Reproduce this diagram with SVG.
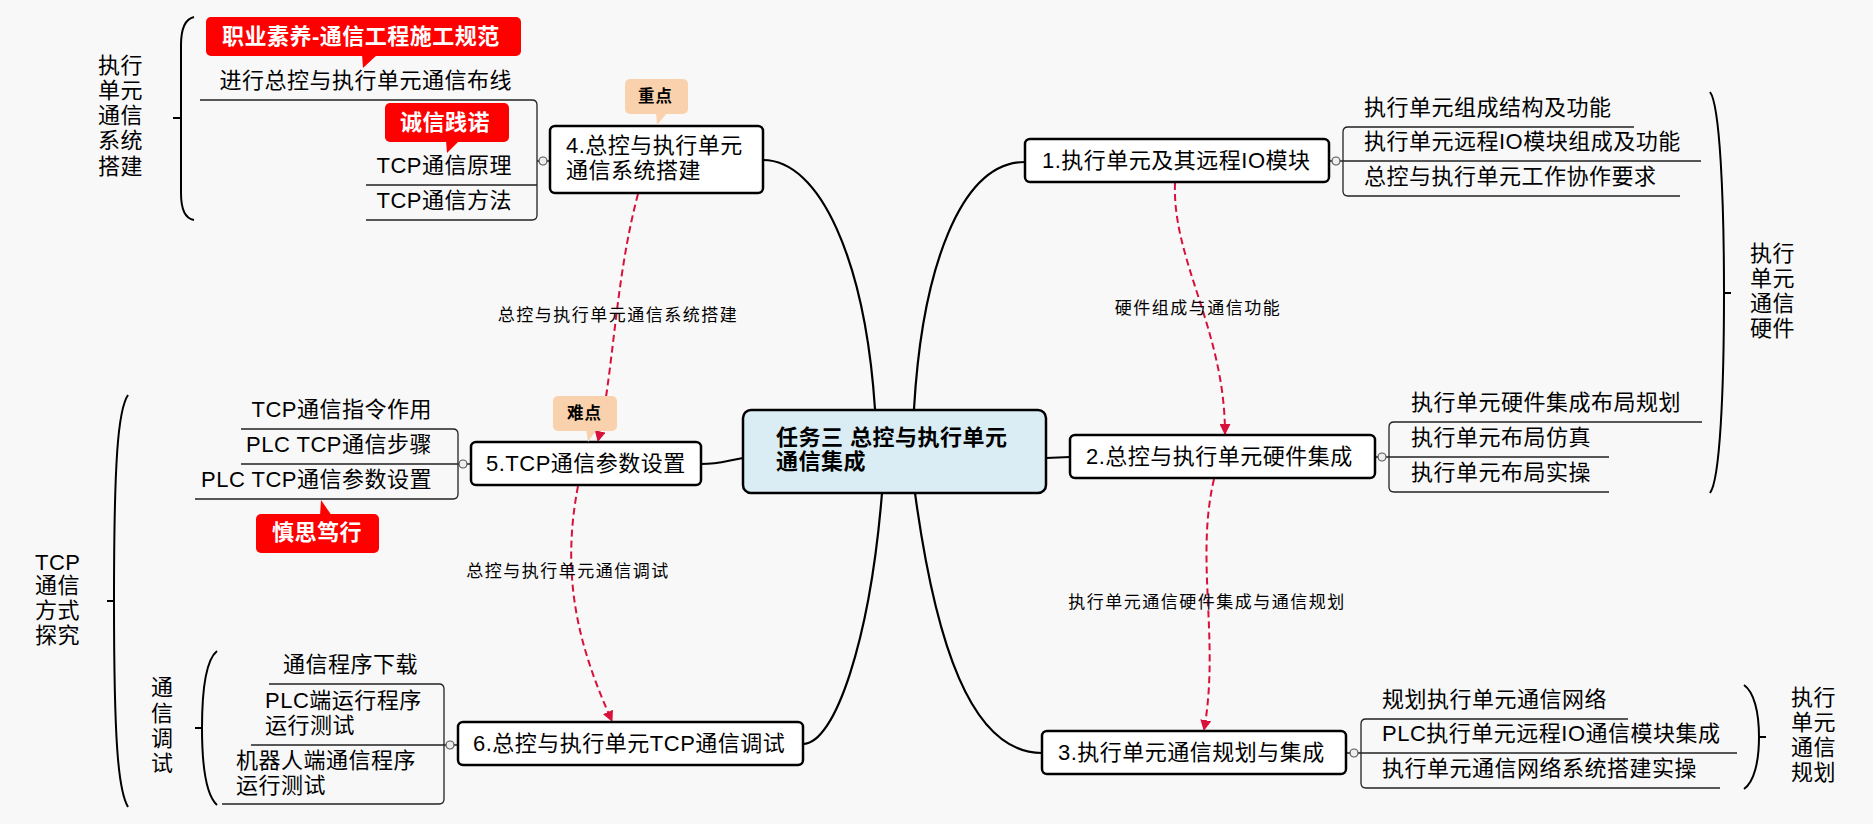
<svg xmlns="http://www.w3.org/2000/svg" width="1873" height="824" viewBox="0 0 1873 824">
<style>
text{font-family:"Liberation Sans","Noto Sans CJK SC",sans-serif;fill:#000}
.n{font-size:22px;letter-spacing:0.5px}
.c{font-size:22px;letter-spacing:0.5px}
.e{text-anchor:end}
.cen{font-size:22px;font-weight:bold;letter-spacing:0.5px}
.lbl{font-size:17px;letter-spacing:1.5px;text-anchor:middle}
.tag{font-size:22px;font-weight:bold;letter-spacing:0.5px;fill:#fff}
.pk{font-size:16.5px;font-weight:bold;letter-spacing:1px}
.box{fill:#fff;stroke:#000;stroke-width:2.5}
.br{fill:none;stroke:#222;stroke-width:1.3}
.brace{fill:none;stroke:#000;stroke-width:2}
.main{fill:none;stroke:#000;stroke-width:2.2}
.rel{fill:none;stroke:#d8103a;stroke-width:2;stroke-dasharray:7 4}
.red{fill:#ff0000}
.peach{fill:#fad1ad}
.dot{fill:#eeeeee;stroke:#555;stroke-width:1.2}
</style>
<defs>
<marker id="arr" viewBox="0 0 10 10" refX="9" refY="5" markerWidth="11" markerHeight="11" markerUnits="userSpaceOnUse" orient="auto">
<path d="M0,0 L10,5 L0,10 Z" fill="#d8103a"/>
</marker>
</defs>
<rect width="1873" height="824" fill="#f8f8f8"/>

<g id="connectors">
<path class="main" d="M1025,162 C960,162 922,270 914,409"/>
<path class="main" d="M763,160 C820,160 865,260 875,409"/>
<path class="main" d="M701,464 C720,464 725,461 743,458"/>
<path class="main" d="M1046,458 L1070,457"/>
<path class="main" d="M882,493 C870,640 835,744 803,744"/>
<path class="main" d="M915,493 C935,640 970,753 1042,753"/>
<path class="rel" marker-end="url(#arr)" d="M638,194 C615,280 614,370 598,441"/>
<path class="rel" marker-end="url(#arr)" d="M1175,183 C1172,260 1225,330 1225,434"/>
<path class="rel" marker-end="url(#arr)" d="M1214,479 C1195,560 1220,640 1204,730"/>
<path class="rel" marker-end="url(#arr)" d="M578,486 C560,580 580,650 612,721"/>
<text class="lbl" x="618" y="321">总控与执行单元通信系统搭建</text>
<text class="lbl" x="1198" y="314">硬件组成与通信功能</text>
<text class="lbl" x="1207" y="608">执行单元通信硬件集成与通信规划</text>
<text class="lbl" x="568" y="577">总控与执行单元通信调试</text>
</g>

<g id="center">
<rect x="743" y="410" width="303" height="83" rx="8" fill="#daedf4" stroke="#000" stroke-width="2.5"/>
<text class="cen" x="776" y="445">任务三 总控与执行单元</text>
<text class="cen" x="776" y="469">通信集成</text>
</g>

<g id="node1">
<path class="br" d="M1634,127 H1348 Q1343,127 1343,132 V191 Q1343,196 1348,196 H1680 M1329,161 H1701"/>
<circle class="dot" cx="1336" cy="161" r="4"/>
<rect class="box" x="1025" y="139" width="304" height="43" rx="5"/>
<text class="n" x="1042" y="168">1.执行单元及其远程IO模块</text>
<text class="c" x="1364" y="115">执行单元组成结构及功能</text>
<text class="c" x="1364" y="149">执行单元远程IO模块组成及功能</text>
<text class="c" x="1364" y="184">总控与执行单元工作协作要求</text>
</g>

<g id="node2">
<path class="br" d="M1702,422 H1394 Q1389,422 1389,427 V487 Q1389,492 1394,492 H1609 M1375,457 H1609"/>
<circle class="dot" cx="1382" cy="457" r="4"/>
<rect class="box" x="1070" y="435" width="305" height="43" rx="5"/>
<text class="n" x="1086" y="464">2.总控与执行单元硬件集成</text>
<text class="c" x="1411" y="410">执行单元硬件集成布局规划</text>
<text class="c" x="1411" y="445">执行单元布局仿真</text>
<text class="c" x="1411" y="480">执行单元布局实操</text>
</g>

<g id="node3">
<path class="br" d="M1628,719 H1366 Q1361,719 1361,724 V783 Q1361,788 1366,788 H1720 M1346,753 H1737"/>
<circle class="dot" cx="1354" cy="753" r="4"/>
<rect class="box" x="1042" y="731" width="304" height="43" rx="5"/>
<text class="n" x="1058" y="760">3.执行单元通信规划与集成</text>
<text class="c" x="1382" y="707">规划执行单元通信网络</text>
<text class="c" x="1382" y="741">PLC执行单元远程IO通信模块集成</text>
<text class="c" x="1382" y="776">执行单元通信网络系统搭建实操</text>
</g>

<g id="node4">
<path class="br" d="M200,100 H532 Q537,100 537,105 V215 Q537,220 532,220 H366 M366,185 H537 M537,161 H550"/>
<circle class="dot" cx="543" cy="161" r="4"/>
<rect class="box" x="550" y="126" width="213" height="67" rx="5"/>
<text class="n" x="566" y="153">4.总控与执行单元</text>
<text class="n" x="566" y="178">通信系统搭建</text>
<text class="c e" x="512" y="88">进行总控与执行单元通信布线</text>
<text class="c e" x="512" y="173">TCP通信原理</text>
<text class="c e" x="512" y="208">TCP通信方法</text>
</g>

<g id="node5">
<path class="br" d="M241,429 H453 Q458,429 458,434 V494 Q458,499 453,499 H195 M241,464 H471"/>
<circle class="dot" cx="463" cy="464" r="4"/>
<rect class="box" x="471" y="442" width="230" height="43" rx="5"/>
<text class="n" x="486" y="471">5.TCP通信参数设置</text>
<text class="c e" x="432" y="417">TCP通信指令作用</text>
<text class="c e" x="432" y="452">PLC TCP通信步骤</text>
<text class="c e" x="432" y="487">PLC TCP通信参数设置</text>
</g>

<g id="node6">
<path class="br" d="M269,684 H439 Q444,684 444,689 V799 Q444,804 439,804 H222 M251,745 H458"/>
<circle class="dot" cx="450" cy="745" r="4"/>
<rect class="box" x="458" y="722" width="345" height="43" rx="5"/>
<text class="n" x="473" y="751">6.总控与执行单元TCP通信调试</text>
<text class="c e" x="418" y="672">通信程序下载</text>
<text class="c" x="265" y="708">PLC端运行程序</text>
<text class="c" x="265" y="733">运行测试</text>
<text class="c" x="236" y="768">机器人端通信程序</text>
<text class="c" x="236" y="793">运行测试</text>
</g>

<g id="brace-sys">
<path class="brace" d="M194,17 Q181,20 181,45 V193 Q181,218 194,220 M181,118 H173"/>
<text class="c" x="98" y="73">执行</text>
<text class="c" x="98" y="98">单元</text>
<text class="c" x="98" y="123">通信</text>
<text class="c" x="98" y="148">系统</text>
<text class="c" x="98" y="174">搭建</text>
</g>

<g id="brace-tcp">
<path class="brace" d="M128,395 C118,410 114,460 114,601 C114,740 118,790 128,807 M114,601 H107"/>
<text class="c" x="35" y="570">TCP</text>
<text class="c" x="35" y="593">通信</text>
<text class="c" x="35" y="618">方式</text>
<text class="c" x="35" y="643">探究</text>
</g>

<g id="brace-debug">
<path class="brace" d="M217,651 C206,660 202,690 202,728 C202,766 206,795 217,805 M202,728 H195"/>
<text class="c" x="151" y="695">通</text>
<text class="c" x="151" y="721">信</text>
<text class="c" x="151" y="746">调</text>
<text class="c" x="151" y="771">试</text>
</g>

<g id="brace-hw">
<path class="brace" d="M1710,92 C1720,105 1724,200 1724,293 C1724,390 1720,480 1710,493 M1724,293 H1731"/>
<text class="c" x="1750" y="261">执行</text>
<text class="c" x="1750" y="286">单元</text>
<text class="c" x="1750" y="311">通信</text>
<text class="c" x="1750" y="336">硬件</text>
</g>

<g id="brace-plan">
<path class="brace" d="M1744,685 C1754,692 1759,712 1759,737 C1759,762 1754,782 1744,789 M1759,737 H1766"/>
<text class="c" x="1791" y="705">执行</text>
<text class="c" x="1791" y="730">单元</text>
<text class="c" x="1791" y="755">通信</text>
<text class="c" x="1791" y="780">规划</text>
</g>

<g id="tag-norm">
<rect class="red" x="206" y="17" width="315" height="39" rx="5"/>
<path class="red" d="M362,54 L378,54 L363,68 Z"/>
<text class="tag" x="222" y="44">职业素养-通信工程施工规范</text>
</g>

<g id="tag-honest">
<rect class="red" x="385" y="103" width="124" height="39" rx="5"/>
<path class="red" d="M446,140 L460,140 L447,153 Z"/>
<text class="tag" x="400" y="130">诚信践诺</text>
</g>

<g id="tag-think">
<rect class="red" x="256" y="514" width="123" height="39" rx="5"/>
<path class="red" d="M320,516 L332,516 L321,500 Z"/>
<text class="tag" x="272" y="540">慎思笃行</text>
</g>

<g id="tag-key">
<rect class="peach" x="625" y="79" width="63" height="35" rx="5"/>
<path class="peach" d="M656,112 L668,112 L657,125 Z"/>
<text class="pk" x="638" y="102">重点</text>
</g>

<g id="tag-hard">
<rect class="peach" x="553" y="396" width="64" height="35" rx="5"/>
<path class="peach" d="M586,429 L597,429 L588,442 Z"/>
<text class="pk" x="567" y="419">难点</text>
</g>
</svg>
